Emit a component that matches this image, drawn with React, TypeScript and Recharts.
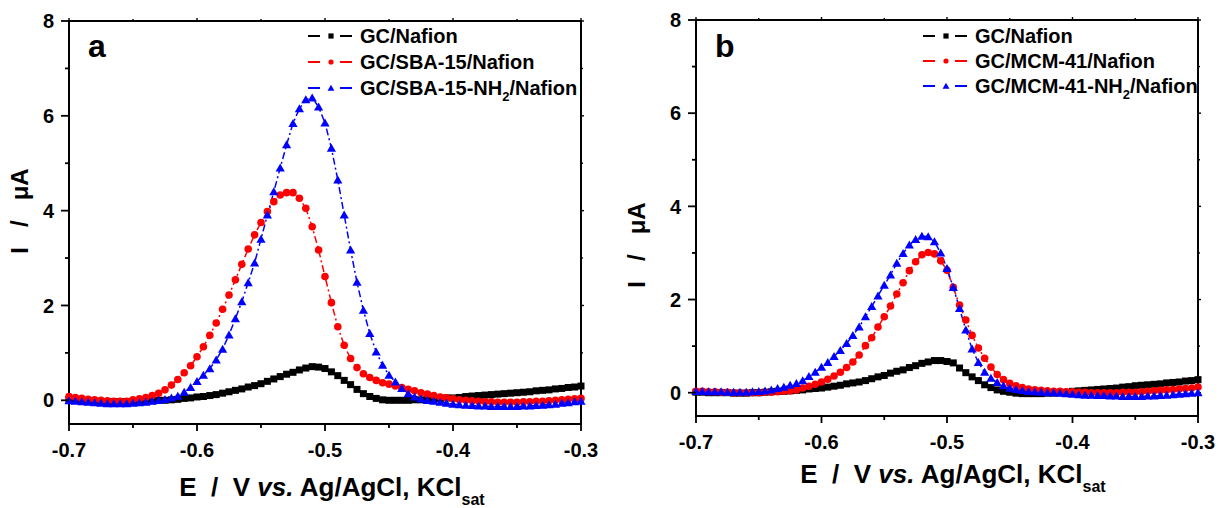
import React from "react";
import { LineChart, Line, XAxis, YAxis, Legend } from "recharts";

const FONT = "'Liberation Sans', Arial, sans-serif";

const potentials = [
  -0.7, -0.695, -0.69, -0.685, -0.68, -0.675, -0.67, -0.665, -0.66, -0.655,
  -0.65, -0.645, -0.64, -0.635, -0.63, -0.625, -0.62, -0.615, -0.61, -0.605,
  -0.6, -0.595, -0.59, -0.585, -0.58, -0.575, -0.57, -0.565, -0.56, -0.555,
  -0.55, -0.545, -0.54, -0.535, -0.53, -0.525, -0.52, -0.515, -0.51, -0.505,
  -0.5, -0.495, -0.49, -0.485, -0.48, -0.475, -0.47, -0.465, -0.46, -0.455,
  -0.45, -0.445, -0.44, -0.435, -0.43, -0.425, -0.42, -0.415, -0.41, -0.405,
  -0.4, -0.395, -0.39, -0.385, -0.38, -0.375, -0.37, -0.365, -0.36, -0.355,
  -0.35, -0.345, -0.34, -0.335, -0.33, -0.325, -0.32, -0.315, -0.31, -0.305,
  -0.3,
];

// panel a
const sbaNafion = [
  0.01, 0.0, -0.01, -0.02, -0.02, -0.03, -0.03, -0.03, -0.03, -0.03,
  -0.02, -0.02, -0.01, -0.01, 0.0, 0.0, 0.01, 0.02, 0.04, 0.05,
  0.07, 0.08, 0.1, 0.12, 0.15, 0.18, 0.21, 0.24, 0.28, 0.31,
  0.35, 0.4, 0.45, 0.5, 0.55, 0.59, 0.64, 0.68, 0.71, 0.7,
  0.67, 0.6, 0.52, 0.42, 0.33, 0.23, 0.14, 0.08, 0.04, 0.01,
  0.0, 0.0, 0.0, 0.0, 0.01, 0.01, 0.02, 0.03, 0.04, 0.05,
  0.05, 0.06, 0.08, 0.09, 0.1, 0.11, 0.12, 0.13, 0.14, 0.15,
  0.16, 0.17, 0.18, 0.2, 0.21, 0.22, 0.24, 0.25, 0.27, 0.28, 0.3,
];
const sba15 = [
  0.08, 0.06, 0.04, 0.02, 0.01, 0.0, -0.01, -0.02, -0.02, -0.02,
  0.01, 0.03, 0.06, 0.1, 0.15, 0.22, 0.32, 0.44, 0.58, 0.73,
  0.92, 1.13, 1.37, 1.63, 1.92, 2.22, 2.54, 2.87, 3.19, 3.49,
  3.75, 3.98, 4.19, 4.33, 4.38, 4.38, 4.26, 4.05, 3.66, 3.17,
  2.61, 2.06, 1.55, 1.16, 0.88, 0.69, 0.56, 0.48, 0.42, 0.37,
  0.34, 0.3, 0.27, 0.23, 0.2, 0.16, 0.13, 0.1, 0.07, 0.05,
  0.03, 0.01, 0.0, -0.01, -0.02, -0.03, -0.03, -0.04, -0.04, -0.04,
  -0.04, -0.03, -0.03, -0.02, -0.02, -0.01, 0.0, 0.01, 0.02, 0.03, 0.04,
];
const sba15Nh2 = [
  -0.01, -0.02, -0.03, -0.04, -0.05, -0.06, -0.07, -0.07, -0.07, -0.07,
  -0.06, -0.05, -0.04, -0.02, 0.0, 0.02, 0.05, 0.09, 0.17, 0.27,
  0.4, 0.53, 0.67, 0.85, 1.08, 1.38, 1.72, 2.08, 2.48, 2.9,
  3.4, 3.91, 4.4, 4.9, 5.39, 5.84, 6.15, 6.34, 6.38, 6.19,
  5.85, 5.32, 4.65, 3.91, 3.17, 2.49, 1.9, 1.41, 1.02, 0.74,
  0.53, 0.39, 0.25, 0.14, 0.07, 0.03, 0.0, -0.02, -0.04, -0.06,
  -0.08, -0.09, -0.1, -0.11, -0.12, -0.12, -0.13, -0.13, -0.13, -0.13,
  -0.13, -0.12, -0.12, -0.11, -0.1, -0.09, -0.08, -0.06, -0.05, -0.03, -0.02,
];

// panel b
const mcmNafion = [
  0.01, 0.01, 0.0, 0.0, 0.0, 0.0, -0.01, -0.01, -0.01, 0.0,
  0.0, 0.01, 0.02, 0.03, 0.03, 0.04, 0.05, 0.06, 0.08, 0.09,
  0.1, 0.12, 0.14, 0.16, 0.19, 0.21, 0.23, 0.26, 0.3, 0.34,
  0.37, 0.42, 0.46, 0.49, 0.54, 0.58, 0.63, 0.66, 0.69, 0.69,
  0.67, 0.64, 0.53, 0.43, 0.34, 0.26, 0.17, 0.11, 0.06, 0.03,
  0.01, -0.01, -0.02, -0.02, -0.02, -0.02, -0.01, -0.01, 0.0, 0.01,
  0.03, 0.04, 0.05, 0.06, 0.07, 0.08, 0.09, 0.1, 0.12, 0.13,
  0.15, 0.16, 0.17, 0.18, 0.19, 0.21, 0.22, 0.23, 0.25, 0.26, 0.28,
];
const mcm41 = [
  0.03, 0.03, 0.02, 0.02, 0.01, 0.01, 0.0, 0.0, 0.0, 0.0,
  0.0, 0.01, 0.01, 0.02, 0.03, 0.04, 0.06, 0.1, 0.14, 0.18,
  0.23, 0.29, 0.36, 0.44, 0.54, 0.66, 0.81, 1.01, 1.18, 1.41,
  1.63, 1.86, 2.12, 2.36, 2.62, 2.81, 2.96, 3.01, 2.98, 2.83,
  2.63, 2.26, 1.88, 1.56, 1.23, 0.96, 0.74, 0.55, 0.39, 0.28,
  0.2, 0.15, 0.11, 0.08, 0.06, 0.05, 0.04, 0.03, 0.03, 0.02,
  0.02, 0.01, 0.01, 0.0, 0.0, 0.0, 0.0, 0.0, 0.01, 0.01,
  0.01, 0.02, 0.03, 0.04, 0.05, 0.06, 0.07, 0.08, 0.09, 0.1, 0.12,
];
const mcm41Nh2 = [
  0.03, 0.03, 0.02, 0.02, 0.02, 0.01, 0.01, 0.01, 0.01, 0.02,
  0.03, 0.04, 0.06, 0.09, 0.12, 0.16, 0.2, 0.26, 0.35, 0.44,
  0.55, 0.65, 0.78, 0.91, 1.06, 1.23, 1.41, 1.63, 1.85, 2.08,
  2.31, 2.53, 2.78, 2.99, 3.17, 3.29, 3.36, 3.35, 3.24, 3.0,
  2.67, 2.26, 1.81, 1.35, 0.94, 0.65, 0.44, 0.31, 0.22, 0.15,
  0.1, 0.07, 0.05, 0.03, 0.02, 0.01, 0.0, 0.0, -0.01, -0.02,
  -0.03, -0.04, -0.05, -0.05, -0.06, -0.06, -0.07, -0.07, -0.08, -0.08,
  -0.08, -0.08, -0.07, -0.07, -0.06, -0.05, -0.04, -0.03, -0.02, -0.01, 0.0,
];

const xTicks = [-0.7, -0.65, -0.6, -0.55, -0.5, -0.45, -0.4, -0.35, -0.3];
const yTicks = [0, 1, 2, 3, 4, 5, 6, 7, 8];
const xDomain = [-0.7, -0.3];
const yDomain = [-0.5, 8];
const namesA = ["GC/Nafion", "GC/SBA-15/Nafion", "GC/SBA-15-NH2/Nafion"];
const namesB = ["GC/Nafion", "GC/MCM-41/Nafion", "GC/MCM-41-NH2/Nafion"];
const colors = ["#000000", "#ff0000", "#0000ff"];
const shapes = ["square", "circle", "triangle"];

const W = 614;
const H = 508;

const rowsA = potentials.map((e, i) => ({ e, s0: sbaNafion[i], s1: sba15[i], s2: sba15Nh2[i] }));
const rowsB = potentials.map((e, i) => ({ e, s0: mcmNafion[i], s1: mcm41[i], s2: mcm41Nh2[i] }));

const isMajorX = (v: number) => Math.abs(v * 10 - Math.round(v * 10)) < 1e-6;

function Marker({ shape, cx, cy, color, r }: any) {
  if (shape === "square") return <rect x={cx - r} y={cy - r} width={r * 2} height={r * 2} fill={color} />;
  if (shape === "circle") return <circle cx={cx} cy={cy} r={r} fill={color} />;
  return <polygon points={`${cx},${cy - r * 1.1} ${cx - r * 1.15},${cy + r * 0.9} ${cx + r * 1.15},${cy + r * 0.9}`} fill={color} />;
}

const dotSize = [3.5, 3.8, 4.0];
const dotFor = (i: number) => (p: any) => (
  <Marker key={`d${i}-${p.index}`} shape={shapes[i]} cx={p.cx} cy={p.cy} color={colors[i]} r={dotSize[i]} />
);

const BottomTick = ({ x, y, payload }: any) => {
  const major = isMajorX(payload.value);
  return (
    <g>
      <rect x={x - 0.9} y={y} width={1.8} height={major ? 7 : 4} fill="#000" />
      {major && (
        <text x={x} y={y + 33} textAnchor="middle" fontFamily={FONT} fontWeight="bold" fontSize={20} fill="#000">
          {payload.value.toFixed(1)}
        </text>
      )}
    </g>
  );
};
const LeftTick = ({ x, y, payload }: any) => {
  const major = payload.value % 2 === 0;
  const len = major ? 8 : 4;
  return (
    <g>
      <rect x={x - len} y={y - 0.9} width={len} height={1.8} fill="#000" />
      {major && (
        <text x={x - 15} y={y} dy="0.36em" textAnchor="end" fontFamily={FONT} fontWeight="bold" fontSize={20} fill="#000">
          {payload.value}
        </text>
      )}
    </g>
  );
};

// plot frame drawn as thin filled bars, plus short outer ticks on top and right
function Frame({ left, top, right, bottom }: any) {
  const w = right - left;
  const h = bottom - top;
  const t = 2;
  return (
    <g>
      <rect x={left - t / 2} y={top - t / 2} width={w + t} height={t} fill="#000" />
      <rect x={left - t / 2} y={bottom - t / 2} width={w + t} height={t} fill="#000" />
      <rect x={left - t / 2} y={top - t / 2} width={t} height={h + t} fill="#000" />
      <rect x={right - t / 2} y={top - t / 2} width={t} height={h + t} fill="#000" />
      {xTicks.map((v) => {
        const x = left + ((v - xDomain[0]) / (xDomain[1] - xDomain[0])) * w;
        const len = isMajorX(v) ? 3 : 2;
        return <rect key={`t${v}`} x={x - 0.7} y={top - len} width={1.4} height={len} fill="#000" />;
      })}
      {yTicks.map((v) => {
        const y = bottom - ((v - yDomain[0]) / (yDomain[1] - yDomain[0])) * h;
        const len = v % 2 === 0 ? 3 : 2;
        return <rect key={`r${v}`} x={right} y={y - 0.7} width={len} height={1.4} fill="#000" />;
      })}
    </g>
  );
}

function Name({ text }: { text: string }) {
  const parts = text.split("NH2");
  if (parts.length === 1) return <>{text}</>;
  return (
    <>
      {parts[0]}NH<tspan fontSize={13} dy={6}>2</tspan>
      <tspan dy={-6}>{parts[1]}</tspan>
    </>
  );
}

function LegendBox({ names, gap }: any) {
  return (
    <svg width={300} height={84} style={{ display: "block", overflow: "visible" }}>
      {names.map((n: string, i: number) => {
        const base = 21 + i * gap;
        const cy = base - 7;
        return (
          <g key={n}>
            <rect x={0} y={cy - 1} width={12} height={2} fill={colors[i]} />
            <rect x={32} y={cy - 1} width={12} height={2} fill={colors[i]} />
            <Marker shape={shapes[i]} cx={23} cy={cy} color={colors[i]} r={i === 2 ? 3 : 2.6} />
            <text x={52} y={base} fontFamily={FONT} fontWeight="bold" fontSize={20} fill="#000">
              <Name text={n} />
            </text>
          </g>
        );
      })}
    </svg>
  );
}

function Panel(props: any) {
  const { rows, names, letter, plotLeft, marginTop, marginRight, xAxisHeight, legendLeft, legendTop, legendGap, xTitle, yTitle } = props;
  const frame = { left: plotLeft, top: marginTop, right: W - marginRight, bottom: H - xAxisHeight };
  return (
    <LineChart width={W} height={H} data={rows} margin={{ top: marginTop, right: marginRight, bottom: 0, left: 0 }}>
      <XAxis
        dataKey="e"
        type="number"
        domain={xDomain}
        ticks={xTicks}
        height={xAxisHeight}
        tickSize={0}
        tickMargin={0}
        tickLine={false}
        tick={<BottomTick />}
        axisLine={false}
        label={{
          content: () => (
            <text x={xTitle[0]} y={xTitle[1]} textAnchor="middle" fontFamily={FONT} fontWeight="bold" fontSize={26} fill="#000" style={{ whiteSpace: "pre" }}>
              {"E  /  V "}
              <tspan fontStyle="italic">vs.</tspan>
              {" Ag/AgCl, KCl"}
              <tspan fontSize={16} dy={9}>sat</tspan>
            </text>
          ),
        }}
      />
      <YAxis
        type="number"
        domain={yDomain}
        ticks={yTicks}
        width={plotLeft}
        tickSize={0}
        tickMargin={0}
        tickLine={false}
        tick={<LeftTick />}
        axisLine={false}
        label={{
          content: () => (
            <g>
              <Frame {...frame} />
              <text
                x={yTitle[0]}
                y={yTitle[1]}
                transform={`rotate(-90, ${yTitle[0]}, ${yTitle[1]})`}
                textAnchor="middle"
                fontFamily={FONT}
                fontWeight="bold"
                fontSize={24}
                fill="#000"
                style={{ whiteSpace: "pre" }}
              >
                {"I   /   μA"}
              </text>
              <text x={plotLeft + 19} y={57} fontFamily={FONT} fontWeight="bold" fontSize={32} fill="#000">
                {letter}
              </text>
            </g>
          ),
        }}
      />
      <Legend
        layout="vertical"
        align="center"
        verticalAlign="middle"
        wrapperStyle={{ left: legendLeft, top: legendTop, width: 300 }}
        content={() => <LegendBox names={names} gap={legendGap} />}
      />
      {["s0", "s1", "s2"].map((k, i) => (
        <Line
          key={k}
          dataKey={k}
          type="linear"
          stroke={colors[i]}
          strokeWidth={1.5}
          strokeDasharray="7 3 2 3"
          dot={dotFor(i)}
          activeDot={false}
          isAnimationActive={false}
        />
      ))}
    </LineChart>
  );
}

export default function App() {
  return (
    <div style={{ position: "absolute", left: 0, top: 0, width: 1228, height: 508, background: "#fff" }}>
      <div style={{ position: "absolute", left: 0, top: 0 }}>
        <Panel
          rows={rowsA}
          names={namesA}
          letter="a"
          plotLeft={69}
          marginTop={21}
          marginRight={33}
          xAxisHeight={84}
          legendLeft={308}
          legendTop={22}
          legendGap={26}
          xTitle={[332, 496]}
          yTitle={[28, 211]}
        />
      </div>
      <div style={{ position: "absolute", left: 614, top: 0 }}>
        <Panel
          rows={rowsB}
          names={namesB}
          letter="b"
          plotLeft={82}
          marginTop={20}
          marginRight={30}
          xAxisHeight={92}
          legendLeft={309}
          legendTop={22}
          legendGap={25}
          xTitle={[339, 483]}
          yTitle={[31, 245]}
        />
      </div>
    </div>
  );
}
